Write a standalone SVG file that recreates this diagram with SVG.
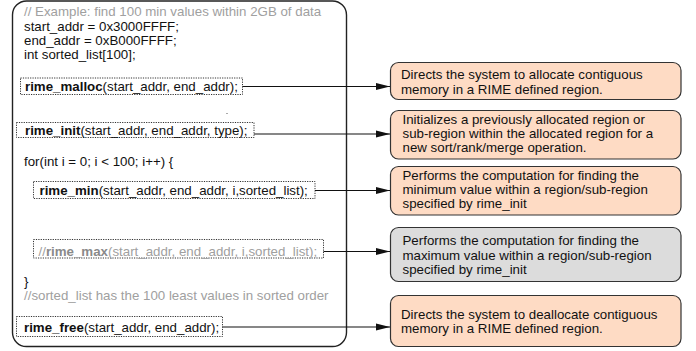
<svg xmlns="http://www.w3.org/2000/svg" width="696" height="351" viewBox="0 0 696 351">
  <style>
    text { font-family: "Liberation Sans", Arial, sans-serif; font-size: 13.3px; fill: #111; }
    .cm { fill: #a0a0a0; }
    .b { font-weight: bold; }
    .frame { fill: #fff; stroke: #222; stroke-width: 1.4; }
    .call { fill: none; stroke: #333; stroke-width: 1; stroke-dasharray: 1.2 1.2; }
    .note { fill: #fedbc4; stroke: #333; stroke-width: 1.2; }
    .note.off { fill: #dcdcdc; }
    .wire { fill: none; stroke: #111; stroke-width: 1.1; marker-end: url(#tip); }
  </style>
  <defs>
    <marker id="tip" markerWidth="14" markerHeight="8" refX="14" refY="4" orient="auto" markerUnits="userSpaceOnUse">
      <path d="M0,0.5 L14,4 L0,7.5 Z" fill="#111"/>
    </marker>
  </defs>

  <rect width="696" height="351" fill="#fff"/>

  <!-- code listing -->
  <g id="code">
    <rect class="frame" x="12.5" y="1" width="334" height="345.5" rx="14" ry="14"/>
    <text class="cm" x="24" y="16">// Example: find 100 min values within 2GB of data</text>
    <text x="24" y="30.5">start_addr = 0x3000FFFF;</text>
    <text x="24" y="44.5">end_addr = 0xB000FFFF;</text>
    <text x="24" y="58.5">int sorted_list[100];</text>
    <rect x="226.5" y="113" width="1" height="1" fill="#555"/>
    <text x="24" y="166">for(int i = 0; i &lt; 100; i++) {</text>
    <text x="24" y="285.5">}</text>
    <text class="cm" x="24" y="300">//sorted_list has the 100 least values in sorted order</text>
  </g>

  <g id="call-malloc">
    <rect class="call" x="20.5" y="78" width="222" height="16.5"/>
    <text x="25" y="90.5"><tspan class="b">rime_malloc</tspan>(start_addr, end_addr);</text>
  </g>
  <g id="call-init">
    <rect class="call" x="16.5" y="122.5" width="237.5" height="15"/>
    <text x="25" y="134.5"><tspan class="b">rime_init</tspan>(start_addr, end_addr, type);</text>
  </g>
  <g id="call-min">
    <rect class="call" x="33.5" y="181.5" width="281.5" height="17"/>
    <text x="39.5" y="195"><tspan class="b">rime_min</tspan>(start_addr, end_addr, i,sorted_list);</text>
  </g>
  <g id="call-max">
    <rect class="call" x="33.5" y="239.5" width="290" height="18.5"/>
    <text class="cm" x="38.5" y="255.5">//<tspan class="b" fill="#8a8a8a">rime_max</tspan>(start_addr, end_addr, i,sorted_list);</text>
  </g>
  <g id="call-free">
    <rect class="call" x="16.5" y="316.5" width="206" height="20"/>
    <text x="24" y="331.5"><tspan class="b">rime_free</tspan>(start_addr, end_addr);</text>
  </g>

  <!-- explanations -->
  <g id="note-malloc">
    <rect class="note" x="390.5" y="62.5" width="290.5" height="37" rx="8"/>
    <text x="401" y="79">Directs the system to allocate contiguous</text>
    <text x="401" y="93.5">memory in a RIME defined region.</text>
  </g>
  <g id="note-init">
    <rect class="note" x="390.5" y="110.5" width="290.5" height="48.5" rx="8"/>
    <text x="402.5" y="123.5">Initializes a previously allocated region or</text>
    <text x="402.5" y="137.5">sub-region within the allocated region for a</text>
    <text x="402.5" y="151.5">new sort/rank/merge operation.</text>
  </g>
  <g id="note-min">
    <rect class="note" x="390.5" y="166.5" width="290.5" height="48.5" rx="8"/>
    <text x="402.5" y="179.5">Performs the computation for finding the</text>
    <text x="402.5" y="193.5">minimum value within a region/sub-region</text>
    <text x="402.5" y="207.5">specified by rime_init</text>
  </g>
  <g id="note-max">
    <rect class="note off" x="390.5" y="227.5" width="290.5" height="54" rx="8"/>
    <text x="402.5" y="245">Performs the computation for finding the</text>
    <text x="402.5" y="259.5">maximum value within a region/sub-region</text>
    <text x="402.5" y="273.5">specified by rime_init</text>
  </g>
  <g id="note-free">
    <rect class="note" x="390.5" y="295.5" width="290.5" height="51" rx="8"/>
    <text x="401" y="318.5">Directs the system to deallocate contiguous</text>
    <text x="401" y="333">memory in a RIME defined region.</text>
  </g>

  <!-- connectors -->
  <g id="connectors">
    <path class="wire" d="M242.5,86.5 H390"/>
    <path class="wire" d="M254,134 H390"/>
    <path class="wire" d="M315,190.5 H390"/>
    <path class="wire" d="M323.5,251.5 H390"/>
    <path class="wire" d="M222.5,327 H390"/>
  </g>
</svg>
